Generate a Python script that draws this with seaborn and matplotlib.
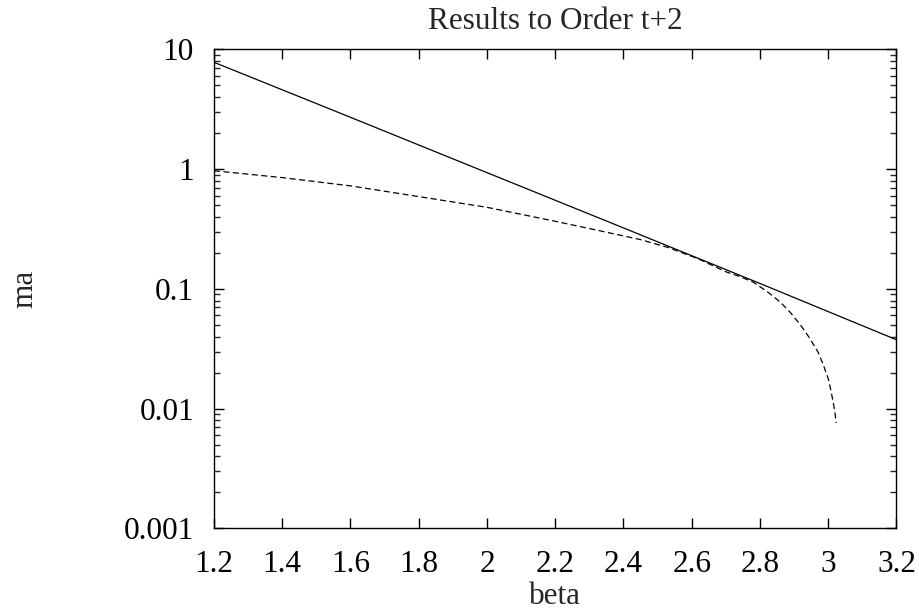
import matplotlib
matplotlib.use("Agg")
import matplotlib.pyplot as plt
import seaborn as sns
import pandas as pd
from matplotlib.ticker import LogLocator, FixedLocator, NullFormatter, FuncFormatter

# ---- data ----
beta_solid = [1.2, 1.6, 2.0, 2.4, 2.8, 3.2]
ma_solid = [7.8, 2.71, 0.935, 0.323, 0.111, 0.0376]

beta_dashed = [1.2, 1.4, 1.6, 1.8, 2.0, 2.2, 2.33, 2.45, 2.53, 2.62, 2.70, 2.74, 2.78,
               2.82, 2.86, 2.89, 2.92, 2.945, 2.97, 2.985, 3.0, 3.008, 3.016, 3.02, 3.023]
ma_dashed = [0.97, 0.85, 0.725, 0.59, 0.48, 0.367, 0.306, 0.258, 0.222, 0.178, 0.139, 0.127, 0.114,
             0.0955, 0.0774, 0.063, 0.0494, 0.039, 0.0297, 0.0234, 0.0178, 0.0141, 0.0107, 0.0091, 0.0076]

x_ticks = [1.2, 1.4, 1.6, 1.8, 2.0, 2.2, 2.4, 2.6, 2.8, 3.0, 3.2]
y_ticks = [0.001, 0.01, 0.1, 1, 10]
y_tick_labels = ["0.001", "0.01", "0.1", "1", "10"]

title = "Results to Order t+2"
xlabel = "beta"
ylabel = "ma"

# ---- style ----
sns.set_style("ticks")
plt.rcParams["font.family"] = ["Liberation Serif", "DejaVu Serif"]
FS = 22.5
plt.rcParams["font.size"] = FS

L, R, T, B = 214.0, 896.5, 49.4, 528.4
fig = plt.figure(figsize=(9.2, 6.13), dpi=100)
ax = fig.add_axes([L / 920, 1 - B / 613, (R - L) / 920, (B - T) / 613])

df_s = pd.DataFrame({"beta": beta_solid, "ma": ma_solid})
df_d = pd.DataFrame({"beta": beta_dashed, "ma": ma_dashed})

sns.lineplot(data=df_s, x="beta", y="ma", ax=ax, color="black", linewidth=0.9,
             estimator=None, sort=False)
sns.lineplot(data=df_d, x="beta", y="ma", ax=ax, color="black", linewidth=0.9,
             estimator=None, sort=False, dashes=False)
ax.lines[1].set_dashes([4.8, 2.8])

ax.set_yscale("log")
ax.set_xlim(1.2, 3.2)
ax.set_ylim(0.001, 10)

ax.xaxis.set_major_locator(FixedLocator(x_ticks))
ax.xaxis.set_major_formatter(FuncFormatter(lambda v, p: f"{v:g}"))
ax.yaxis.set_major_locator(FixedLocator(y_ticks))
ax.set_yticklabels(y_tick_labels)
ax.yaxis.set_minor_locator(LogLocator(base=10, subs=range(2, 10), numticks=20))
ax.yaxis.set_minor_formatter(NullFormatter())

for sp in ax.spines.values():
    sp.set_visible(True)
    sp.set_linewidth(1.0)
    sp.set_color("black")

ax.tick_params(which="major", direction="in", length=7, width=1.0, top=True, right=True,
               labelsize=FS, colors="black")
ax.tick_params(axis="x", which="major", pad=15.5)
ax.tick_params(axis="y", which="major", pad=14.4)
ax.tick_params(which="minor", direction="in", length=4, width=1.0, top=True, right=True)

ax.set_title(title, fontsize=FS, pad=15)
ax.set_xlabel(xlabel, fontsize=FS)
ax.set_ylabel(ylabel, fontsize=FS)
ax.xaxis.set_label_coords(0.5, (B - 581.5) / (B - T))
ax.yaxis.set_label_coords((39.7 - L) / (R - L), 0.5)

ax.grid(False)
fig.savefig("out.png", dpi=100, facecolor="white")
